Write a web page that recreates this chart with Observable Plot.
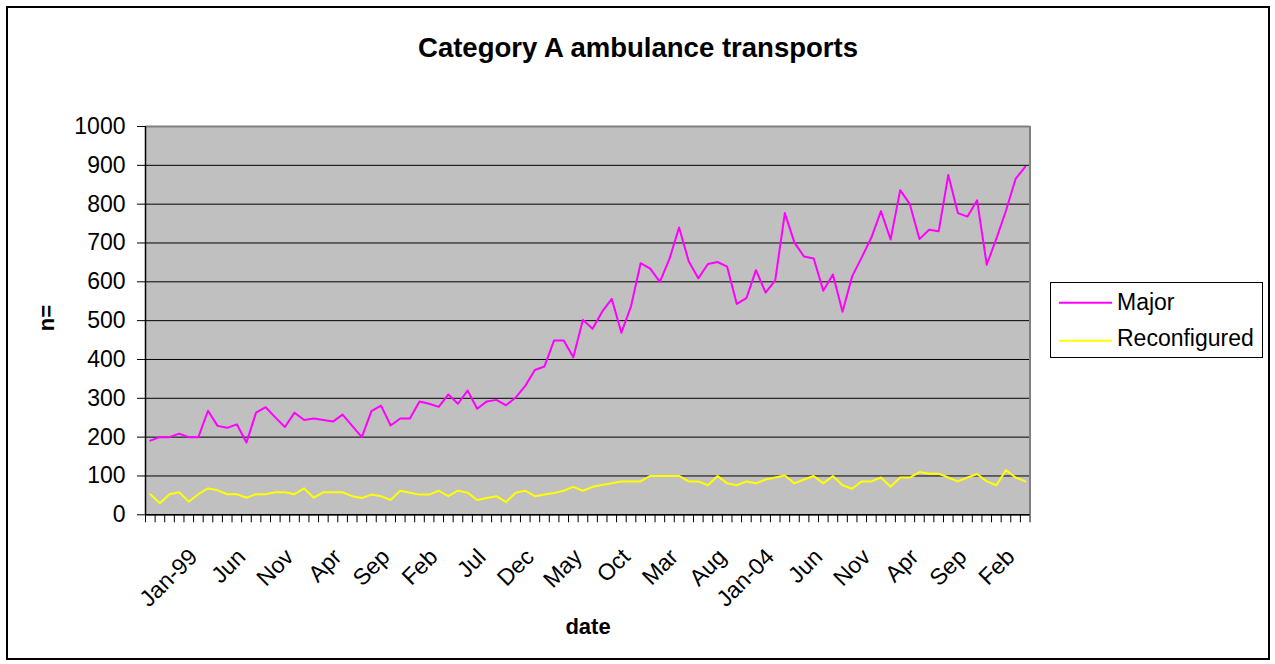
<!DOCTYPE html>
<html>
<head>
<meta charset="utf-8">
<script src="https://cdn.jsdelivr.net/npm/d3@7"></script>
<script src="https://cdn.jsdelivr.net/npm/@observablehq/plot@0.6"></script>
<style>
  html, body { margin: 0; padding: 0; background: #fff; }
  #chart { position: relative; width: 1275px; height: 664px; font-family: "Liberation Sans", Arial, sans-serif; }
  #chart > svg { position: absolute; left: 0; top: 0; }
  #overlay { pointer-events: none; }
</style>
</head>
<body>
<div id="chart">
  <svg id="overlay" width="1275" height="664" font-family="Liberation Sans, Arial, sans-serif">
    <rect x="7" y="7" width="1262" height="652" fill="none" stroke="#000" stroke-width="2"></rect>
    <text x="638" y="56.5" text-anchor="middle" font-size="28" font-weight="bold" textLength="440" lengthAdjust="spacingAndGlyphs">Category A ambulance transports</text>
    <text transform="translate(54,318) rotate(-90)" text-anchor="middle" font-size="22" font-weight="bold">n=</text>
    <text x="588" y="634" text-anchor="middle" font-size="22" font-weight="bold">date</text>
    <g id="legend"></g>
  </svg>
</div>
<script>
// Monthly counts, January 1999 to August 2006
const major = [
  191, 200, 200, 209, 200, 200, 268, 229, 224, 233, 186, 263,
  277, 251, 226, 263, 244, 248, 244, 240, 258, 229, 200, 267,
  281, 230, 248, 248, 292, 286, 278, 310, 286, 320, 273, 292,
  296, 282, 302, 332, 373, 382, 449, 449, 406, 502, 479, 523,
  556, 469, 537, 648, 634, 600, 659, 740, 653, 609, 646, 651,
  639, 543, 558, 630, 572, 604, 777, 701, 665, 660, 577, 619,
  523, 614, 663, 714, 782, 709, 836, 800, 710, 734, 730, 875,
  777, 768, 810, 644, 711, 783, 865, 896
];
const reconfigured = [
  53, 30, 53, 58, 34, 53, 68, 63, 53, 53, 44, 53,
  53, 58, 58, 53, 68, 44, 58, 58, 58, 48, 43, 52,
  48, 38, 62, 57, 52, 52, 62, 48, 62, 57, 38, 43,
  48, 33, 57, 62, 48, 52, 56, 62, 72, 62, 72, 77,
  81, 86, 86, 86, 100, 100, 100, 100, 86, 86, 76, 100,
  81, 76, 86, 81, 91, 96, 101, 81, 91, 100, 81, 100,
  76, 67, 86, 86, 96, 72, 96, 96, 110, 106, 106, 96,
  86, 96, 105, 86, 76, 115, 96, 86
];
// Every fifth month is labelled on the category axis
const tickLabels = ["Jan-99", "Jun", "Nov", "Apr", "Sep", "Feb", "Jul", "Dec", "May",
  "Oct", "Mar", "Aug", "Jan-04", "Jun", "Nov", "Apr", "Sep", "Feb"];
const yTicks = [0, 100, 200, 300, 400, 500, 600, 700, 800, 900, 1000];
const seriesNames = ["Major", "Reconfigured"];
const seriesColors = ["#ff00ff", "#ffff00"];

const n = major.length;
const idx = d3.range(n);
const boundaries = d3.range(n + 1).map(i => i - 0.5);
const labelled = tickLabels.map((t, k) => ({i: k * 5, t}));

const plot = Plot.plot({
  width: 1275,
  height: 664,
  marginLeft: 145,
  marginRight: 245.5,
  marginTop: 126,
  marginBottom: 149.7,
  style: {fontFamily: "Liberation Sans, Arial, sans-serif", fontSize: "23px", background: "transparent", color: "#000"},
  x: {type: "linear", domain: [-0.5, n - 0.5]},
  y: {domain: [0, 1000]},
  marks: [
    Plot.frame({fill: "#c0c0c0", stroke: null}),
    Plot.gridY({ticks: yTicks, stroke: "#000", strokeOpacity: 1, strokeWidth: 1}),
    Plot.ruleY([1000], {stroke: "#808080", strokeWidth: 2}),
    Plot.ruleX([n - 0.5], {stroke: "#808080", strokeWidth: 2}),
    Plot.line(reconfigured, {x: (d, i) => idx[i], y: d => d, stroke: seriesColors[1], strokeWidth: 2}),
    Plot.line(major, {x: (d, i) => idx[i], y: d => d, stroke: seriesColors[0], strokeWidth: 2}),
    Plot.ruleX([-0.5], {stroke: "#000", strokeWidth: 1.5}),
    Plot.ruleY([0], {stroke: "#000", strokeWidth: 1.5}),
    Plot.axisY({ticks: yTicks, tickSize: 8, tickPadding: 12, fontSize: 23, tickFormat: d => String(d), label: null}),
    Plot.axisX({ticks: boundaries, tickSize: 8, tickFormat: () => "", label: null}),
    Plot.text(labelled, {
      x: "i", text: "t", frameAnchor: "bottom",
      rotate: -45, textAnchor: "end", lineAnchor: "bottom",
      dx: 48.5, dy: 43.5, fontSize: 23, fill: "#000"
    })
  ]
});
document.getElementById("chart").insertBefore(plot, document.getElementById("overlay"));

// Legend box on the right of the plot area
const legend = d3.select("#legend");
legend.append("rect").attr("x", 1050.5).attr("y", 282.5).attr("width", 212).attr("height", 75)
  .attr("fill", "#fff").attr("stroke", "#000").attr("stroke-width", 1);
seriesNames.forEach((name, k) => {
  const cy = [302.7, 340.7][k];
  legend.append("line").attr("x1", 1059).attr("x2", 1112).attr("y1", cy).attr("y2", cy)
    .attr("stroke", seriesColors[k]).attr("stroke-width", 2);
  legend.append("text").attr("x", 1117).attr("y", [309.5, 346][k]).attr("font-size", 23).text(name);
});
</script>
</body>
</html>
